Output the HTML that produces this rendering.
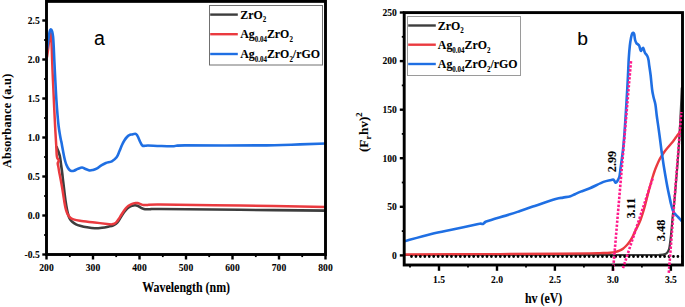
<!DOCTYPE html><html><head><meta charset="utf-8"><style>html,body{margin:0;padding:0;background:#fff;}svg{display:block;}text{font-family:"Liberation Serif",serif;font-weight:bold;fill:#000;stroke:#000;stroke-width:0.08px;}</style></head><body>
<svg width="685" height="307" viewBox="0 0 685 307">
<rect x="0" y="0" width="685" height="307" fill="#fff"/>
<defs>
<clipPath id="cl"><rect x="46.5" y="1.4" width="279.0" height="253.1"/></clipPath>
<clipPath id="cr"><rect x="404.2" y="12.6" width="278.3" height="252.4"/></clipPath>
</defs>
<g clip-path="url(#cl)" fill="none" stroke-linejoin="round" stroke-linecap="round">
<path d="M56.70,147.00 C56.85,147.42 57.28,148.67 57.60,149.50 C57.92,150.33 58.28,151.12 58.60,152.00 C58.92,152.88 59.23,153.80 59.50,154.80 C59.77,155.80 59.92,156.22 60.20,158.00 C60.48,159.78 60.87,163.00 61.20,165.50 C61.53,168.00 61.88,170.42 62.20,173.00 C62.52,175.58 62.75,178.00 63.10,181.00 C63.45,184.00 63.87,187.50 64.30,191.00 C64.73,194.50 65.27,199.00 65.70,202.00 C66.13,205.00 66.47,206.83 66.90,209.00 C67.33,211.17 67.78,213.30 68.30,215.00 C68.82,216.70 69.35,218.07 70.00,219.20 C70.65,220.33 71.20,220.95 72.20,221.80 C73.20,222.65 74.70,223.65 76.00,224.30 C77.30,224.95 78.17,225.20 80.00,225.70 C81.83,226.20 84.55,226.87 87.00,227.30 C89.45,227.73 92.20,228.22 94.70,228.30 C97.20,228.38 99.62,228.10 102.00,227.80 C104.38,227.50 107.17,226.88 109.00,226.50 C110.83,226.12 111.83,225.95 113.00,225.50 C114.17,225.05 115.08,224.55 116.00,223.80 C116.92,223.05 117.42,222.55 118.50,221.00 C119.58,219.45 121.25,216.33 122.50,214.50 C123.75,212.67 124.92,211.20 126.00,210.00 C127.08,208.80 128.00,208.00 129.00,207.30 C130.00,206.60 131.00,206.13 132.00,205.80 C133.00,205.47 134.08,205.30 135.00,205.30 C135.92,205.30 136.67,205.48 137.50,205.80 C138.33,206.12 139.17,206.75 140.00,207.20 C140.83,207.65 141.67,208.17 142.50,208.50 C143.33,208.83 143.75,209.07 145.00,209.20 C146.25,209.33 147.50,209.33 150.00,209.30 C152.50,209.27 145.00,208.92 160.00,209.00 C175.00,209.08 212.25,209.53 240.00,209.80 C267.75,210.08 312.08,210.51 326.50,210.65" stroke="#3d3d3d" stroke-width="2.6"/>
<path d="M47.00,57.00 C47.17,55.83 47.63,52.83 48.00,50.00 C48.37,47.17 48.82,42.75 49.20,40.00 C49.58,37.25 49.97,34.17 50.30,33.50 C50.63,32.83 50.95,33.25 51.20,36.00 C51.45,38.75 51.58,44.33 51.80,50.00 C52.02,55.67 52.23,63.33 52.50,70.00 C52.77,76.67 53.10,83.33 53.40,90.00 C53.70,96.67 54.00,103.67 54.30,110.00 C54.60,116.33 54.88,122.17 55.20,128.00 C55.52,133.83 55.95,140.50 56.20,145.00 C56.45,149.50 56.52,152.83 56.70,155.00 C56.88,157.17 56.95,157.08 57.30,158.00 C57.65,158.92 58.73,159.62 58.80,160.50 C58.87,161.38 57.78,162.30 57.70,163.30 C57.62,164.30 58.05,165.05 58.30,166.50 C58.55,167.95 58.88,170.25 59.20,172.00 C59.52,173.75 59.90,175.45 60.20,177.00 C60.50,178.55 60.67,179.47 61.00,181.30 C61.33,183.13 61.82,185.72 62.20,188.00 C62.58,190.28 62.93,192.63 63.30,195.00 C63.67,197.37 64.03,200.03 64.40,202.20 C64.77,204.37 65.12,206.37 65.50,208.00 C65.88,209.63 66.32,210.92 66.70,212.00 C67.08,213.08 67.25,213.58 67.80,214.50 C68.35,215.42 69.05,216.68 70.00,217.50 C70.95,218.32 71.83,218.85 73.50,219.40 C75.17,219.95 76.47,220.28 80.00,220.80 C83.53,221.32 89.82,221.93 94.70,222.50 C99.58,223.07 106.42,223.90 109.30,224.20 C112.18,224.50 111.13,224.40 112.00,224.30 C112.87,224.20 113.75,223.98 114.50,223.60 C115.25,223.22 115.83,222.72 116.50,222.00 C117.17,221.28 117.83,220.27 118.50,219.30 C119.17,218.33 119.83,217.25 120.50,216.20 C121.17,215.15 121.83,214.03 122.50,213.00 C123.17,211.97 123.83,210.92 124.50,210.00 C125.17,209.08 125.83,208.20 126.50,207.50 C127.17,206.80 127.75,206.33 128.50,205.80 C129.25,205.27 130.17,204.70 131.00,204.30 C131.83,203.90 132.72,203.62 133.50,203.40 C134.28,203.18 135.03,203.05 135.70,203.00 C136.37,202.95 136.87,203.00 137.50,203.10 C138.13,203.20 138.83,203.37 139.50,203.60 C140.17,203.83 140.83,204.27 141.50,204.50 C142.17,204.73 142.58,204.92 143.50,205.00 C144.42,205.08 144.25,205.07 147.00,205.00 C149.75,204.93 144.50,204.52 160.00,204.60 C175.50,204.68 212.25,205.11 240.00,205.50 C267.75,205.89 312.08,206.71 326.50,206.95" stroke="#ea3a3f" stroke-width="2.5"/>
<path d="M47.00,49.00 C47.13,48.17 47.52,46.00 47.80,44.00 C48.08,42.00 48.40,39.03 48.70,37.00 C49.00,34.97 49.30,33.03 49.60,31.80 C49.90,30.57 50.20,29.93 50.50,29.60 C50.80,29.27 51.10,29.40 51.40,29.80 C51.70,30.20 52.02,30.80 52.30,32.00 C52.58,33.20 52.87,34.67 53.10,37.00 C53.33,39.33 53.50,42.17 53.70,46.00 C53.90,49.83 54.03,54.33 54.30,60.00 C54.57,65.67 54.95,73.33 55.30,80.00 C55.65,86.67 55.98,93.67 56.40,100.00 C56.82,106.33 57.43,113.67 57.80,118.00 C58.17,122.33 58.27,123.33 58.60,126.00 C58.93,128.67 59.43,131.75 59.80,134.00 C60.17,136.25 60.52,138.08 60.80,139.50 C61.08,140.92 61.25,141.25 61.50,142.50 C61.75,143.75 62.00,145.33 62.30,147.00 C62.60,148.67 62.97,150.75 63.30,152.50 C63.63,154.25 63.97,156.00 64.30,157.50 C64.63,159.00 64.93,160.25 65.30,161.50 C65.67,162.75 66.05,163.92 66.50,165.00 C66.95,166.08 67.45,167.13 68.00,168.00 C68.55,168.87 69.22,169.70 69.80,170.20 C70.38,170.70 70.80,170.92 71.50,171.00 C72.20,171.08 72.92,171.07 74.00,170.70 C75.08,170.33 76.67,169.33 78.00,168.80 C79.33,168.27 80.83,167.52 82.00,167.50 C83.17,167.48 83.78,168.22 85.00,168.70 C86.22,169.18 87.97,170.20 89.30,170.40 C90.63,170.60 91.70,170.25 93.00,169.90 C94.30,169.55 95.77,169.02 97.10,168.30 C98.43,167.58 99.53,166.48 101.00,165.60 C102.47,164.72 104.10,163.72 105.90,163.00 C107.70,162.28 110.02,162.25 111.80,161.30 C113.58,160.35 115.32,159.02 116.60,157.30 C117.88,155.58 118.60,153.05 119.50,151.00 C120.40,148.95 121.17,146.78 122.00,145.00 C122.83,143.22 123.67,141.63 124.50,140.30 C125.33,138.97 126.20,137.85 127.00,137.00 C127.80,136.15 128.47,135.63 129.30,135.20 C130.13,134.77 131.02,134.65 132.00,134.40 C132.98,134.15 134.37,133.60 135.20,133.70 C136.03,133.80 136.45,134.28 137.00,135.00 C137.55,135.72 137.92,136.75 138.50,138.00 C139.08,139.25 139.83,141.23 140.50,142.50 C141.17,143.77 141.75,145.05 142.50,145.60 C143.25,146.15 144.08,145.82 145.00,145.80 C145.92,145.78 145.50,145.47 148.00,145.50 C150.50,145.53 155.73,145.88 160.00,146.00 C164.27,146.12 169.47,146.30 173.60,146.20 C177.73,146.10 170.52,145.53 184.80,145.40 C199.08,145.27 240.10,145.57 259.30,145.40 C278.50,145.23 288.80,144.72 300.00,144.40 C311.20,144.08 322.08,143.65 326.50,143.50" stroke="#1f6fe3" stroke-width="2.6"/>
</g>
<rect x="46.5" y="1.4" width="279.0" height="253.1" fill="none" stroke="#000" stroke-width="2.9"/>
<line x1="42.3" y1="254.5" x2="46.5" y2="254.5" stroke="#000" stroke-width="2.4"/>
<text transform="translate(39.70,257.90) scale(0.905,1)" font-size="10.6" text-anchor="end" >-0.5</text>
<line x1="42.3" y1="215.5" x2="46.5" y2="215.5" stroke="#000" stroke-width="2.4"/>
<text transform="translate(39.70,218.90) scale(0.905,1)" font-size="10.6" text-anchor="end" >0.0</text>
<line x1="42.3" y1="176.5" x2="46.5" y2="176.5" stroke="#000" stroke-width="2.4"/>
<text transform="translate(39.70,179.90) scale(0.905,1)" font-size="10.6" text-anchor="end" >0.5</text>
<line x1="42.3" y1="137.5" x2="46.5" y2="137.5" stroke="#000" stroke-width="2.4"/>
<text transform="translate(39.70,140.90) scale(0.905,1)" font-size="10.6" text-anchor="end" >1.0</text>
<line x1="42.3" y1="98.5" x2="46.5" y2="98.5" stroke="#000" stroke-width="2.4"/>
<text transform="translate(39.70,101.90) scale(0.905,1)" font-size="10.6" text-anchor="end" >1.5</text>
<line x1="42.3" y1="59.5" x2="46.5" y2="59.5" stroke="#000" stroke-width="2.4"/>
<text transform="translate(39.70,62.90) scale(0.905,1)" font-size="10.6" text-anchor="end" >2.0</text>
<line x1="42.3" y1="20.5" x2="46.5" y2="20.5" stroke="#000" stroke-width="2.4"/>
<text transform="translate(39.70,23.90) scale(0.905,1)" font-size="10.6" text-anchor="end" >2.5</text>
<line x1="44.1" y1="235.0" x2="46.5" y2="235.0" stroke="#000" stroke-width="1.8"/>
<line x1="44.1" y1="196.0" x2="46.5" y2="196.0" stroke="#000" stroke-width="1.8"/>
<line x1="44.1" y1="157.0" x2="46.5" y2="157.0" stroke="#000" stroke-width="1.8"/>
<line x1="44.1" y1="118.0" x2="46.5" y2="118.0" stroke="#000" stroke-width="1.8"/>
<line x1="44.1" y1="79.0" x2="46.5" y2="79.0" stroke="#000" stroke-width="1.8"/>
<line x1="44.1" y1="40.0" x2="46.5" y2="40.0" stroke="#000" stroke-width="1.8"/>
<line x1="46.5" y1="254.5" x2="46.5" y2="259.5" stroke="#000" stroke-width="2.4"/>
<text transform="translate(46.50,271.20) scale(0.905,1)" font-size="10.6" text-anchor="middle" >200</text>
<line x1="93.0" y1="254.5" x2="93.0" y2="259.5" stroke="#000" stroke-width="2.4"/>
<text transform="translate(93.00,271.20) scale(0.905,1)" font-size="10.6" text-anchor="middle" >300</text>
<line x1="139.5" y1="254.5" x2="139.5" y2="259.5" stroke="#000" stroke-width="2.4"/>
<text transform="translate(139.50,271.20) scale(0.905,1)" font-size="10.6" text-anchor="middle" >400</text>
<line x1="186.0" y1="254.5" x2="186.0" y2="259.5" stroke="#000" stroke-width="2.4"/>
<text transform="translate(186.00,271.20) scale(0.905,1)" font-size="10.6" text-anchor="middle" >500</text>
<line x1="232.5" y1="254.5" x2="232.5" y2="259.5" stroke="#000" stroke-width="2.4"/>
<text transform="translate(232.50,271.20) scale(0.905,1)" font-size="10.6" text-anchor="middle" >600</text>
<line x1="279.0" y1="254.5" x2="279.0" y2="259.5" stroke="#000" stroke-width="2.4"/>
<text transform="translate(279.00,271.20) scale(0.905,1)" font-size="10.6" text-anchor="middle" >700</text>
<line x1="325.5" y1="254.5" x2="325.5" y2="259.5" stroke="#000" stroke-width="2.4"/>
<text transform="translate(325.50,271.20) scale(0.905,1)" font-size="10.6" text-anchor="middle" >800</text>
<line x1="69.8" y1="254.5" x2="69.8" y2="257.1" stroke="#000" stroke-width="1.8"/>
<line x1="116.2" y1="254.5" x2="116.2" y2="257.1" stroke="#000" stroke-width="1.8"/>
<line x1="162.8" y1="254.5" x2="162.8" y2="257.1" stroke="#000" stroke-width="1.8"/>
<line x1="209.2" y1="254.5" x2="209.2" y2="257.1" stroke="#000" stroke-width="1.8"/>
<line x1="255.8" y1="254.5" x2="255.8" y2="257.1" stroke="#000" stroke-width="1.8"/>
<line x1="302.2" y1="254.5" x2="302.2" y2="257.1" stroke="#000" stroke-width="1.8"/>
<text transform="translate(186.20,291.90) scale(0.877,1)" font-size="13.6" text-anchor="middle" >Wavelength (nm)</text>
<text transform="translate(11.00,120.80) rotate(-90) scale(1,0.97)" font-size="12.2" text-anchor="middle" letter-spacing="0.33">Absorbance (a.u)</text>
<text x="94" y="44.8" font-size="19.5" style="font-family:'Liberation Sans',sans-serif;font-weight:normal">a</text>
<rect x="209.5" y="5.5" width="113.0" height="59.5" fill="#fff" stroke="#707070" stroke-width="1"/>
<line x1="210.2" y1="14.6" x2="237.8" y2="14.6" stroke="#3d3d3d" stroke-width="2.4"/>
<line x1="210.2" y1="34.2" x2="237.8" y2="34.2" stroke="#ea3a3f" stroke-width="2.4"/>
<line x1="210.2" y1="54.0" x2="237.8" y2="54.0" stroke="#1f6fe3" stroke-width="2.4"/>
<text transform="translate(240.20,18.60) scale(0.916,1)" font-size="13.0" text-anchor="start" >ZrO<tspan font-size="7.6" dy="3.8">2</tspan></text>
<text transform="translate(240.20,38.20) scale(0.916,1)" font-size="13.0" text-anchor="start" >Ag<tspan font-size="7.6" dy="3.8">0.04</tspan><tspan dy="-3.8">ZrO</tspan><tspan font-size="7.6" dy="3.8">2</tspan></text>
<text transform="translate(240.20,58.00) scale(0.916,1)" font-size="13.0" text-anchor="start" >Ag<tspan font-size="7.6" dy="3.8">0.04</tspan><tspan dy="-3.8">ZrO</tspan><tspan font-size="7.6" dy="3.8">2</tspan><tspan dy="-3.8">/rGO</tspan></text>
<g clip-path="url(#cr)" fill="none" stroke-linejoin="round" stroke-linecap="round">
<path d="M404.50,255.00 C443.75,255.00 597.42,255.03 640.00,255.00 C682.58,254.97 656.00,254.90 660.00,254.80 C664.00,254.70 662.92,254.65 664.00,254.40 C665.08,254.15 665.83,253.78 666.50,253.30 C667.17,252.82 667.55,252.30 668.00,251.50 C668.45,250.70 668.83,250.08 669.20,248.50 C669.57,246.92 669.82,245.08 670.20,242.00 C670.58,238.92 671.07,234.50 671.50,230.00 C671.93,225.50 672.30,220.00 672.80,215.00 C673.30,210.00 673.93,205.83 674.50,200.00 C675.07,194.17 675.58,187.50 676.20,180.00 C676.82,172.50 677.63,162.83 678.20,155.00 C678.77,147.17 679.20,139.67 679.60,133.00 C680.00,126.33 680.32,120.50 680.60,115.00 C680.88,109.50 681.10,104.50 681.30,100.00 C681.50,95.50 681.72,90.00 681.80,88.00" stroke="#3d3d3d" stroke-width="2.2"/>
<path d="M404.50,254.50 C420.42,254.43 474.08,254.22 500.00,254.10 C525.92,253.98 545.00,253.92 560.00,253.80 C575.00,253.68 583.33,253.52 590.00,253.40 C596.67,253.28 596.67,253.22 600.00,253.10 C603.33,252.98 607.33,252.92 610.00,252.70 C612.67,252.48 614.33,252.18 616.00,251.80 C617.67,251.42 618.83,250.92 620.00,250.40 C621.17,249.88 622.00,249.43 623.00,248.70 C624.00,247.97 625.00,247.03 626.00,246.00 C627.00,244.97 628.00,243.87 629.00,242.50 C630.00,241.13 631.08,239.47 632.00,237.80 C632.92,236.13 633.67,234.22 634.50,232.50 C635.33,230.78 636.02,229.55 637.00,227.50 C637.98,225.45 639.40,222.70 640.40,220.20 C641.40,217.70 642.15,215.28 643.00,212.50 C643.85,209.72 644.63,206.75 645.50,203.50 C646.37,200.25 647.37,196.17 648.20,193.00 C649.03,189.83 649.78,187.08 650.50,184.50 C651.22,181.92 651.78,179.83 652.50,177.50 C653.22,175.17 654.05,172.58 654.80,170.50 C655.55,168.42 656.30,166.67 657.00,165.00 C657.70,163.33 658.28,161.92 659.00,160.50 C659.72,159.08 660.30,158.08 661.30,156.50 C662.30,154.92 663.70,152.75 665.00,151.00 C666.30,149.25 667.77,147.58 669.10,146.00 C670.43,144.42 671.85,142.95 673.00,141.50 C674.15,140.05 675.13,138.50 676.00,137.30 C676.87,136.10 677.28,135.52 678.20,134.30 C679.12,133.08 680.95,130.72 681.50,130.00" stroke="#ea3a3f" stroke-width="2.4"/>
<path d="M404.50,241.20 C408.97,239.98 422.88,235.93 431.30,233.90 C439.72,231.87 447.17,230.65 455.00,229.00 C462.83,227.35 473.97,224.87 478.30,224.00 C482.63,223.13 480.22,223.82 481.00,223.80 C481.78,223.78 482.33,224.13 483.00,223.90 C483.67,223.67 484.33,222.83 485.00,222.40 C485.67,221.97 482.83,222.65 487.00,221.30 C491.17,219.95 504.50,216.02 510.00,214.30 C515.50,212.58 516.20,212.28 520.00,211.00 C523.80,209.72 526.87,208.60 532.80,206.60 C538.73,204.60 550.57,200.50 555.60,199.00 C560.63,197.50 560.52,198.07 563.00,197.60 C565.48,197.13 568.50,196.77 570.50,196.20 C572.50,195.63 573.30,194.97 575.00,194.20 C576.70,193.43 578.22,192.60 580.70,191.60 C583.18,190.60 586.10,189.82 589.90,188.20 C593.70,186.58 600.15,183.23 603.50,181.90 C606.85,180.57 608.38,180.58 610.00,180.20 C611.62,179.82 612.45,179.47 613.20,179.60 C613.95,179.73 614.13,180.50 614.50,181.00 C614.87,181.50 615.05,182.43 615.40,182.60 C615.75,182.77 616.17,182.47 616.60,182.00 C617.03,181.53 617.52,180.75 618.00,179.80 C618.48,178.85 619.07,178.27 619.50,176.30 C619.93,174.33 620.23,170.72 620.60,168.00 C620.97,165.28 621.27,163.33 621.70,160.00 C622.13,156.67 622.70,153.00 623.20,148.00 C623.70,143.00 624.23,136.33 624.70,130.00 C625.17,123.67 625.58,116.67 626.00,110.00 C626.42,103.33 626.87,95.83 627.20,90.00 C627.53,84.17 627.73,80.33 628.00,75.00 C628.27,69.67 628.50,62.83 628.80,58.00 C629.10,53.17 629.43,49.33 629.80,46.00 C630.17,42.67 630.60,40.07 631.00,38.00 C631.40,35.93 631.83,34.47 632.20,33.60 C632.57,32.73 632.87,32.70 633.20,32.80 C633.53,32.90 633.88,33.00 634.20,34.20 C634.52,35.40 634.72,38.50 635.10,40.00 C635.48,41.50 636.05,42.48 636.50,43.20 C636.95,43.92 637.35,43.87 637.80,44.30 C638.25,44.73 638.78,44.93 639.20,45.80 C639.62,46.67 640.00,48.63 640.30,49.50 C640.60,50.37 640.72,51.08 641.00,51.00 C641.28,50.92 641.63,49.53 642.00,49.00 C642.37,48.47 642.87,47.63 643.20,47.80 C643.53,47.97 643.70,49.17 644.00,50.00 C644.30,50.83 644.45,51.80 645.00,52.80 C645.55,53.80 646.72,54.80 647.30,56.00 C647.88,57.20 648.17,58.33 648.50,60.00 C648.83,61.67 648.95,63.50 649.30,66.00 C649.65,68.50 650.13,71.08 650.60,75.00 C651.07,78.92 651.62,85.83 652.10,89.50 C652.58,93.17 652.95,94.50 653.50,97.00 C654.05,99.50 654.85,101.33 655.40,104.50 C655.95,107.67 656.27,111.98 656.80,116.00 C657.33,120.02 658.07,124.77 658.60,128.60 C659.13,132.43 659.53,135.43 660.00,139.00 C660.47,142.57 660.97,146.83 661.40,150.00 C661.83,153.17 662.20,155.28 662.60,158.00 C663.00,160.72 663.18,162.47 663.80,166.30 C664.42,170.13 665.60,177.05 666.30,181.00 C667.00,184.95 667.43,187.17 668.00,190.00 C668.57,192.83 669.20,195.67 669.70,198.00 C670.20,200.33 670.47,201.92 671.00,204.00 C671.53,206.08 672.32,208.95 672.90,210.50 C673.48,212.05 673.95,212.52 674.50,213.30 C675.05,214.08 675.53,214.50 676.20,215.20 C676.87,215.90 677.70,216.65 678.50,217.50 C679.30,218.35 680.58,219.83 681.00,220.30" stroke="#1f6fe3" stroke-width="2.6"/>
<line x1="411.5" y1="256.5" x2="684" y2="256.5" stroke="#000" stroke-width="2.8" stroke-linecap="round" stroke-dasharray="0 4.44"/>
</g>
<rect x="404.2" y="12.6" width="278.3" height="252.4" fill="none" stroke="#000" stroke-width="2.9"/>
<g fill="none">
<line x1="613.0" y1="270.8" x2="631.0" y2="61.0" stroke="#ff1a8c" stroke-width="2.6" stroke-dasharray="2.4 1.6"/>
<line x1="623.0" y1="268.2" x2="653.0" y2="177.5" stroke="#ff1a8c" stroke-width="2.6" stroke-dasharray="2.4 1.6"/>
<line x1="668.8" y1="272.8" x2="681.3" y2="112.0" stroke="#ff1a8c" stroke-width="2.6" stroke-dasharray="2.4 1.6"/>
</g>
<line x1="399.8" y1="255.4" x2="404.2" y2="255.4" stroke="#000" stroke-width="2.4"/>
<text transform="translate(396.80,258.80) scale(0.905,1)" font-size="10.6" text-anchor="end" >0</text>
<line x1="399.8" y1="206.8" x2="404.2" y2="206.8" stroke="#000" stroke-width="2.4"/>
<text transform="translate(396.80,210.22) scale(0.905,1)" font-size="10.6" text-anchor="end" >50</text>
<line x1="399.8" y1="158.2" x2="404.2" y2="158.2" stroke="#000" stroke-width="2.4"/>
<text transform="translate(396.80,161.64) scale(0.905,1)" font-size="10.6" text-anchor="end" >100</text>
<line x1="399.8" y1="109.7" x2="404.2" y2="109.7" stroke="#000" stroke-width="2.4"/>
<text transform="translate(396.80,113.06) scale(0.905,1)" font-size="10.6" text-anchor="end" >150</text>
<line x1="399.8" y1="61.1" x2="404.2" y2="61.1" stroke="#000" stroke-width="2.4"/>
<text transform="translate(396.80,64.48) scale(0.905,1)" font-size="10.6" text-anchor="end" >200</text>
<line x1="399.8" y1="12.5" x2="404.2" y2="12.5" stroke="#000" stroke-width="2.4"/>
<text transform="translate(396.80,15.90) scale(0.905,1)" font-size="10.6" text-anchor="end" >250</text>
<line x1="401.8" y1="231.1" x2="404.2" y2="231.1" stroke="#000" stroke-width="1.8"/>
<line x1="401.8" y1="182.5" x2="404.2" y2="182.5" stroke="#000" stroke-width="1.8"/>
<line x1="401.8" y1="133.9" x2="404.2" y2="133.9" stroke="#000" stroke-width="1.8"/>
<line x1="401.8" y1="85.4" x2="404.2" y2="85.4" stroke="#000" stroke-width="1.8"/>
<line x1="401.8" y1="36.8" x2="404.2" y2="36.8" stroke="#000" stroke-width="1.8"/>
<line x1="439.0" y1="265.0" x2="439.0" y2="270.8" stroke="#000" stroke-width="2.4"/>
<text transform="translate(438.99,282.70) scale(0.905,1)" font-size="10.6" text-anchor="middle" >1.5</text>
<line x1="497.0" y1="265.0" x2="497.0" y2="270.8" stroke="#000" stroke-width="2.4"/>
<text transform="translate(496.97,282.70) scale(0.905,1)" font-size="10.6" text-anchor="middle" >2.0</text>
<line x1="554.9" y1="265.0" x2="554.9" y2="270.8" stroke="#000" stroke-width="2.4"/>
<text transform="translate(554.95,282.70) scale(0.905,1)" font-size="10.6" text-anchor="middle" >2.5</text>
<line x1="612.9" y1="265.0" x2="612.9" y2="270.8" stroke="#000" stroke-width="2.4"/>
<text transform="translate(612.93,282.70) scale(0.905,1)" font-size="10.6" text-anchor="middle" >3.0</text>
<line x1="670.9" y1="265.0" x2="670.9" y2="270.8" stroke="#000" stroke-width="2.4"/>
<text transform="translate(670.91,282.70) scale(0.905,1)" font-size="10.6" text-anchor="middle" >3.5</text>
<line x1="410.0" y1="265.0" x2="410.0" y2="267.6" stroke="#000" stroke-width="1.8"/>
<line x1="468.0" y1="265.0" x2="468.0" y2="267.6" stroke="#000" stroke-width="1.8"/>
<line x1="526.0" y1="265.0" x2="526.0" y2="267.6" stroke="#000" stroke-width="1.8"/>
<line x1="583.9" y1="265.0" x2="583.9" y2="267.6" stroke="#000" stroke-width="1.8"/>
<line x1="641.9" y1="265.0" x2="641.9" y2="267.6" stroke="#000" stroke-width="1.8"/>
<text transform="translate(543.60,302.80) scale(0.877,1)" font-size="13.6" text-anchor="middle" >hv (eV)</text>
<text transform="translate(367.80,132.20) rotate(-90) scale(1,0.95)" font-size="13.2" text-anchor="middle" >(F<tspan font-size="8.6" dy="3.2">r</tspan><tspan dy="-3.2" dx="0.8">hv)</tspan><tspan font-size="8.6" dy="-5.8">2</tspan></text>
<text transform="translate(577.2,45) scale(1.04,1)" font-size="18.6" style="font-family:'Liberation Sans',sans-serif;font-weight:normal">b</text>
<rect x="407.5" y="16.5" width="113.0" height="59.0" fill="#fff" stroke="#9a9a9a" stroke-width="1"/>
<line x1="408.2" y1="25.5" x2="435.8" y2="25.5" stroke="#3d3d3d" stroke-width="2.4"/>
<line x1="408.2" y1="44.7" x2="435.8" y2="44.7" stroke="#ea3a3f" stroke-width="2.4"/>
<line x1="408.2" y1="64.0" x2="435.8" y2="64.0" stroke="#1f6fe3" stroke-width="2.4"/>
<text transform="translate(437.80,29.50) scale(0.916,1)" font-size="13.0" text-anchor="start" >ZrO<tspan font-size="7.6" dy="3.8">2</tspan></text>
<text transform="translate(437.80,48.70) scale(0.916,1)" font-size="13.0" text-anchor="start" >Ag<tspan font-size="7.6" dy="3.8">0.04</tspan><tspan dy="-3.8">ZrO</tspan><tspan font-size="7.6" dy="3.8">2</tspan></text>
<text transform="translate(437.80,68.00) scale(0.916,1)" font-size="13.0" text-anchor="start" >Ag<tspan font-size="7.6" dy="3.8">0.04</tspan><tspan dy="-3.8">ZrO</tspan><tspan font-size="7.6" dy="3.8">2</tspan><tspan dy="-3.8">/rGO</tspan></text>
<text transform="translate(615.60,161.50) rotate(-90) scale(1,0.93)" font-size="12.3" text-anchor="middle" >2.99</text>
<text transform="translate(635.00,208.20) rotate(-90) scale(1,0.93)" font-size="12.3" text-anchor="middle" >3.11</text>
<text transform="translate(664.80,230.40) rotate(-90) scale(1,0.93)" font-size="12.3" text-anchor="middle" >3.48</text>
</svg></body></html>
